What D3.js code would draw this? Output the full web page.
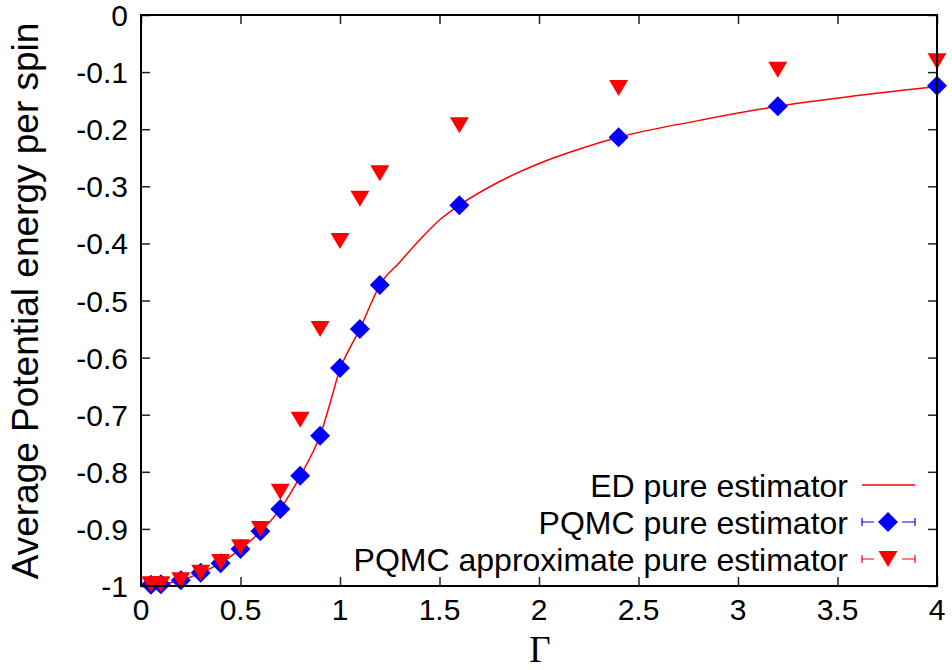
<!DOCTYPE html>
<html><head><meta charset="utf-8">
<script src="https://cdn.jsdelivr.net/npm/d3@7/dist/d3.min.js"></script>
<style>
html,body{margin:0;padding:0;background:#fff;}
svg{display:block;}
text{font-family:"Liberation Sans",Arial,Helvetica,sans-serif;fill:#000;}
</style></head>
<body>
<svg id="chart" width="952" height="670"></svg>
<script>
// ---- data ----
const gammaPoints = [0.05, 0.1, 0.2, 0.3, 0.4, 0.5, 0.6, 0.7, 0.8, 0.9, 1.0, 1.1, 1.2, 1.6, 2.4, 3.2, 4.0];
const pqmcPure = [-0.998, -0.997, -0.99, -0.977, -0.96, -0.935, -0.904, -0.865, -0.807, -0.737, -0.618, -0.55, -0.473, -0.333, -0.214, -0.16, -0.124];
const pqmcApprox = [-0.997, -0.997, -0.99, -0.977, -0.958, -0.932, -0.9, -0.835, -0.709, -0.55, -0.396, -0.322, -0.277, -0.193, -0.128, -0.096, -0.081];
const edGamma = [0.0, 0.1, 0.2, 0.3, 0.4, 0.5, 0.6, 0.7, 0.8, 0.85, 0.9, 0.95, 1.0, 1.05, 1.1, 1.15, 1.2, 1.3, 1.4, 1.5, 1.6, 1.8, 2.0, 2.2, 2.4, 2.8, 3.2, 3.6, 4.0];
const edEnergy = [-1.0, -0.997, -0.99, -0.977, -0.96, -0.935, -0.905, -0.865, -0.808, -0.775, -0.737, -0.68, -0.62, -0.583, -0.55, -0.51, -0.473, -0.433, -0.394, -0.359, -0.333, -0.292, -0.26, -0.235, -0.214, -0.185, -0.16, -0.141, -0.125];
const xTicks = [0, 0.5, 1, 1.5, 2, 2.5, 3, 3.5, 4];
const xTickLabels = ["0", "0.5", "1", "1.5", "2", "2.5", "3", "3.5", "4"];
const yTicks = [0, -0.1, -0.2, -0.3, -0.4, -0.5, -0.6, -0.7, -0.8, -0.9, -1];
const yTickLabels = ["0", "-0.1", "-0.2", "-0.3", "-0.4", "-0.5", "-0.6", "-0.7", "-0.8", "-0.9", "-1"];
const legendLabels = ["ED pure estimator", "PQMC pure estimator", "PQMC approximate pure estimator"];

// ---- layout ----
const L = 141, R = 937, T = 15, B = 586;
const svg = d3.select("#chart");
const x = d3.scaleLinear().domain([0, 4]).range([L, R]);
const y = d3.scaleLinear().domain([-1, 0]).range([B, T]);
const tickLen = 9;

// ticks (inside, mirrored)
const g = svg.append("g");
g.append("g").attr("transform", `translate(0,${B})`)
  .call(d3.axisTop(x).tickValues(xTicks).tickSize(tickLen).tickFormat(""))
  .call(s => s.select(".domain").remove());
g.append("g").attr("transform", `translate(0,${T})`)
  .call(d3.axisBottom(x).tickValues(xTicks).tickSize(tickLen).tickFormat(""))
  .call(s => s.select(".domain").remove());
g.append("g").attr("transform", `translate(${L},0)`)
  .call(d3.axisRight(y).tickValues(yTicks).tickSize(tickLen).tickFormat(""))
  .call(s => s.select(".domain").remove());
g.append("g").attr("transform", `translate(${R},0)`)
  .call(d3.axisLeft(y).tickValues(yTicks).tickSize(tickLen).tickFormat(""))
  .call(s => s.select(".domain").remove());
g.selectAll(".tick line").attr("stroke", "#222").attr("stroke-width", 1.5);

// tick labels
svg.append("g").selectAll("text").data(xTicks).join("text")
  .attr("x", d => x(d)).attr("y", 620)
  .attr("text-anchor", "middle").attr("font-size", 30)
  .text((d, i) => xTickLabels[i]);
svg.append("g").selectAll("text").data(yTicks).join("text")
  .attr("x", 128).attr("y", d => y(d) + 11)
  .attr("text-anchor", "end").attr("font-size", 30)
  .text((d, i) => yTickLabels[i]);

// axis titles
svg.append("text").attr("x", 540).attr("y", 662).attr("text-anchor", "middle")
  .style("font-family", "'Liberation Serif','Times New Roman',serif").attr("font-size", 37).text("Γ");
svg.append("text").attr("transform", "translate(38,301) rotate(-90)")
  .attr("text-anchor", "middle").attr("font-size", 37)
  .text("Average Potential energy per spin");

// ED curve
const line = d3.line().x(d => x(d[0])).y(d => y(d[1])).curve(d3.curveMonotoneX);
svg.append("path").datum(edGamma.map((v, i) => [v, edEnergy[i]]))
  .attr("d", line).attr("fill", "none").attr("stroke", "#ff0000").attr("stroke-width", 1.5);

// markers
const diamond = (cx, cy, r) => `M${cx},${cy - r}L${cx + r},${cy}L${cx},${cy + r}L${cx - r},${cy}Z`;
const triDown = (cx, cy, w, h) => `M${cx - w / 2},${cy - h / 2}L${cx + w / 2},${cy - h / 2}L${cx},${cy + h / 2}Z`;

svg.append("g").selectAll("path").data(gammaPoints).join("path")
  .attr("d", (d, i) => diamond(x(d), y(pqmcPure[i]), 10)).attr("fill", "#0000ff");
svg.append("g").selectAll("path").data(gammaPoints).join("path")
  .attr("d", (d, i) => triDown(x(d), y(pqmcApprox[i]), 19, 16)).attr("fill", "#ff0000");

// frame
svg.append("rect").attr("x", L).attr("y", T).attr("width", R - L).attr("height", B - T)
  .attr("fill", "none").attr("stroke", "#000").attr("stroke-width", 2);

// legend
const legY = [485, 522, 559];
const lx1 = 862, lx2 = 915, lmid = 888;
const leg = svg.append("g");
leg.selectAll("text").data(legendLabels).join("text")
  .attr("x", 848).attr("y", (d, i) => legY[i] + 12)
  .attr("text-anchor", "end").attr("font-size", 32)
  .text(d => d);
leg.append("line").attr("x1", lx1).attr("x2", lx2).attr("y1", legY[0]).attr("y2", legY[0])
  .attr("stroke", "#ff0000").attr("stroke-width", 1.5);
[[legY[1], "#0000ff"], [legY[2], "#ff0000"]].forEach(([yy, c], k) => {
  leg.append("line").attr("x1", lx1).attr("x2", lx2).attr("y1", yy).attr("y2", yy)
    .attr("stroke", c).attr("stroke-width", 1.2);
  [lx1, lx2].forEach(xx => leg.append("line").attr("x1", xx).attr("x2", xx)
    .attr("y1", yy - 4).attr("y2", yy + 4).attr("stroke", c).attr("stroke-width", 1.2));
  leg.append("rect").attr("x", lmid - 14).attr("y", yy - 12).attr("width", 28).attr("height", 24).attr("fill", "#fff");
  if (k === 0) leg.append("path").attr("d", diamond(lmid, yy, 10)).attr("fill", c);
  else leg.append("path").attr("d", triDown(lmid, yy, 19, 16)).attr("fill", c);
});
</script>
</body></html>
